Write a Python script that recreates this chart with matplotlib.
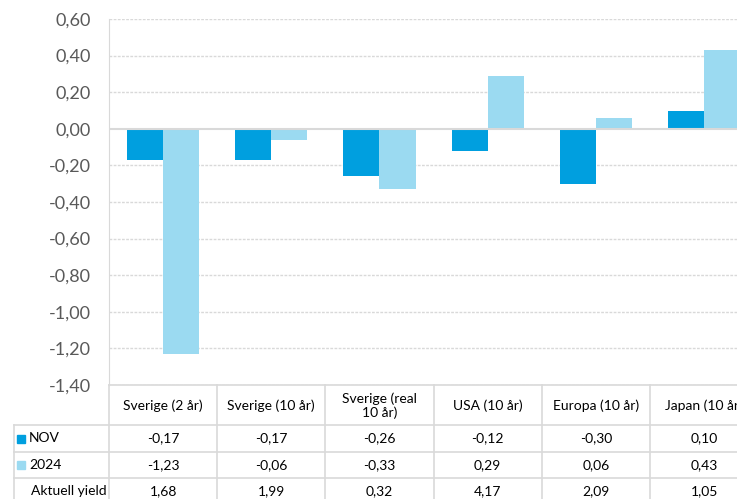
import matplotlib.pyplot as plt
import numpy as np

plt.rcParams['font.family'] = ['Lato', 'DejaVu Sans']

kategorier = ['Sverige (2 år)', 'Sverige (10 år)', 'Sverige (real\n10 år)',
              'USA (10 år)', 'Europa (10 år)', 'Japan (10 år)']
nov = [-0.17, -0.17, -0.26, -0.12, -0.30, 0.10]
ar_2024 = [-1.23, -0.06, -0.33, 0.29, 0.06, 0.43]
aktuell_yield = [1.68, 1.99, 0.32, 4.17, 2.09, 1.05]

farg_nov = '#009FDF'
farg_2024 = '#9BDAF1'
linje = '#D9D9D9'

W, H = 737, 499


def fmt(v):
    if abs(v) < 1e-9:
        v = 0.0
    return f'{v:.2f}'.replace('.', ',')


fig = plt.figure(figsize=(W / 100, H / 100), dpi=100)

# diagramytan (px-koordinater omräknade till figurandelar)
kat_w = 108.2
x0, x1 = 109, 109 + 6 * kat_w
y_top, y_bot = 19, 385
ax = fig.add_axes([x0 / W, (H - y_bot) / H, (x1 - x0) / W, (y_bot - y_top) / H])

x = np.arange(len(kategorier))
bw = 1 / 3
ax.bar(x - bw / 2, nov, bw, color=farg_nov, zorder=3)
ax.bar(x + bw / 2, ar_2024, bw, color=farg_2024, zorder=3)

ax.set_xlim(-0.5, len(kategorier) - 0.5)
ax.set_ylim(-1.4, 0.6)
yt = np.round(np.arange(-1.4, 0.61, 0.2), 2)
ax.set_yticks(yt)
ax.set_yticklabels([fmt(v) for v in yt], fontsize=13, color='#595959')
ax.tick_params(axis='y', length=0, pad=13)
ax.set_xticks([])
for v in yt:
    if abs(v) < 1e-9:
        ax.axhline(0, color=linje, lw=1.5, zorder=4)
    else:
        ax.axhline(v, color=linje, lw=1, ls=(0, (2, 1)), zorder=1)
for s in ['top', 'right', 'bottom']:
    ax.spines[s].set_visible(False)
ax.spines['left'].set_color(linje)

# datatabell under diagrammet
t_left, t_bot = 14, 510
vanster_w = (x0 - t_left) / kat_w
tab = fig.add_axes([t_left / W, (H - t_bot) / H, (x1 - t_left) / W, (t_bot - y_bot) / H])
tab.set_xlim(-0.5 - vanster_w, len(kategorier) - 0.5)
tab.set_ylim(t_bot, y_bot)
tab.axis('off')

rader = [425, 452, 478, 505]
tab.plot([-0.5, len(kategorier) - 0.5], [y_bot, y_bot], color=linje, lw=1.2, clip_on=False)
for r in rader:
    tab.plot([-0.5 - vanster_w, len(kategorier) - 0.5], [r, r], color=linje, lw=1.2, clip_on=False)
for i in range(len(kategorier) + 1):
    tab.plot([i - 0.5, i - 0.5], [y_bot, t_bot], color=linje, lw=1.2, clip_on=False)
tab.plot([-0.5 - vanster_w] * 2, [rader[0], t_bot], color=linje, lw=1.2, clip_on=False)

for i, k in enumerate(kategorier):
    tab.text(i, 406, k, ha='center', va='center', fontsize=10, linespacing=1.15)
    tab.text(i, 438.5, fmt(nov[i]), ha='center', va='center', fontsize=10)
    tab.text(i, 465, fmt(ar_2024[i]), ha='center', va='center', fontsize=10)
    tab.text(i, 491, fmt(aktuell_yield[i]), ha='center', va='center', fontsize=10)

lx = -0.5 - vanster_w
ruta = 8 / kat_w
for y, farg, namn in [(438.5, farg_nov, 'NOV'), (465, farg_2024, '2024')]:
    tab.add_patch(plt.Rectangle((lx + 3 / kat_w, y - 4), ruta, 8, color=farg, clip_on=False))
    tab.text(lx + 15 / kat_w, y, namn, ha='left', va='center', fontsize=10)
tab.text(lx + 17 / kat_w, 491, 'Aktuell yield', ha='left', va='center', fontsize=10)

fig.savefig('out.png', dpi=100)
